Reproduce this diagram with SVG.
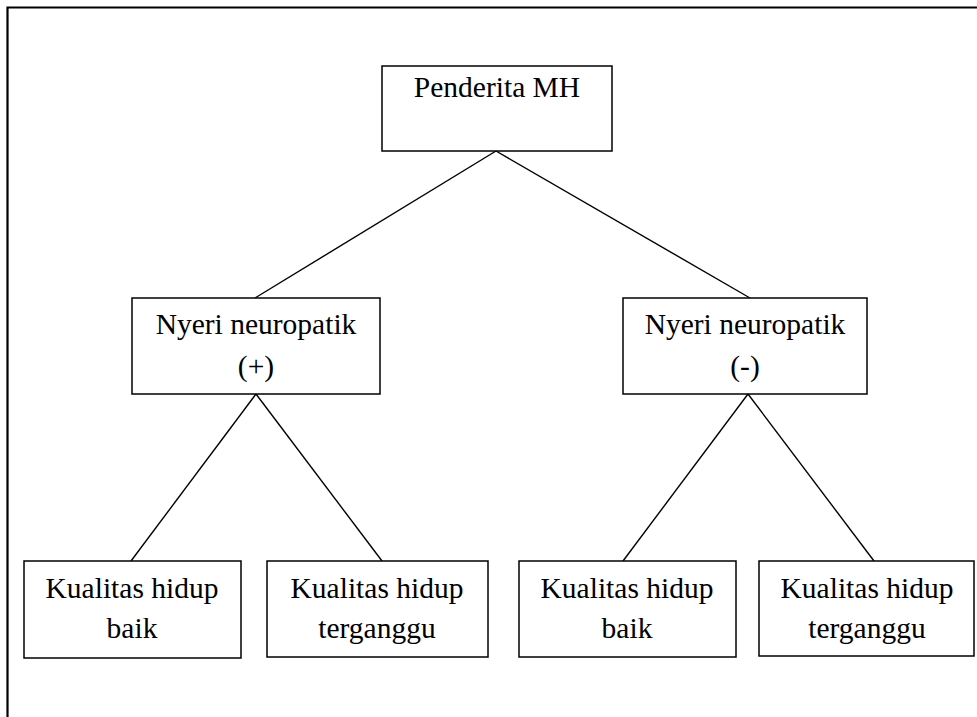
<svg xmlns="http://www.w3.org/2000/svg" width="977" height="717" viewBox="0 0 977 717">
<style>
.box{fill:#fff;stroke:#000;stroke-width:1.5}
.lbl{font-family:"Liberation Serif","Times New Roman",serif;font-size:29.5px;fill:#000;text-anchor:middle}
.con{stroke:#000;stroke-width:1.4;fill:none}
.frame{stroke:#000;stroke-width:2.2;fill:none}
</style>
<rect width="977" height="717" fill="#fff"/>
<path class="frame" d="M7.5,718 V7.5 H978"/>
<g id="connectors">
<line class="con" x1="496" y1="151" x2="255" y2="298"/>
<line class="con" x1="496" y1="151" x2="750" y2="298"/>
<line class="con" x1="256" y1="394" x2="131" y2="561"/>
<line class="con" x1="256" y1="394" x2="382" y2="561"/>
<line class="con" x1="748" y1="394" x2="623" y2="561"/>
<line class="con" x1="748" y1="394" x2="874" y2="561"/>
</g>
<g id="node-penderita">
<rect class="box" x="382" y="66" width="230" height="85"/>
<text class="lbl" x="497" y="97">Penderita MH</text>
</g>
<g id="node-nyeri-pos">
<rect class="box" x="132" y="298" width="248" height="96"/>
<text class="lbl" x="256" y="334">Nyeri neuropatik</text>
<text class="lbl" x="256" y="376">(+)</text>
</g>
<g id="node-nyeri-neg">
<rect class="box" x="623" y="298" width="244" height="96"/>
<text class="lbl" x="745" y="334">Nyeri neuropatik</text>
<text class="lbl" x="745" y="376">(-)</text>
</g>
<g id="node-baik-1">
<rect class="box" x="24" y="561" width="217" height="97"/>
<text class="lbl" x="132" y="598">Kualitas hidup</text>
<text class="lbl" x="132" y="638">baik</text>
</g>
<g id="node-terganggu-1">
<rect class="box" x="267" y="561" width="221" height="96"/>
<text class="lbl" x="377" y="598">Kualitas hidup</text>
<text class="lbl" x="377" y="638">terganggu</text>
</g>
<g id="node-baik-2">
<rect class="box" x="519" y="561" width="217" height="96"/>
<text class="lbl" x="627" y="598">Kualitas hidup</text>
<text class="lbl" x="627" y="638">baik</text>
</g>
<g id="node-terganggu-2">
<rect class="box" x="759" y="561" width="215" height="95"/>
<text class="lbl" x="867" y="598">Kualitas hidup</text>
<text class="lbl" x="867" y="638">terganggu</text>
</g>
</svg>
